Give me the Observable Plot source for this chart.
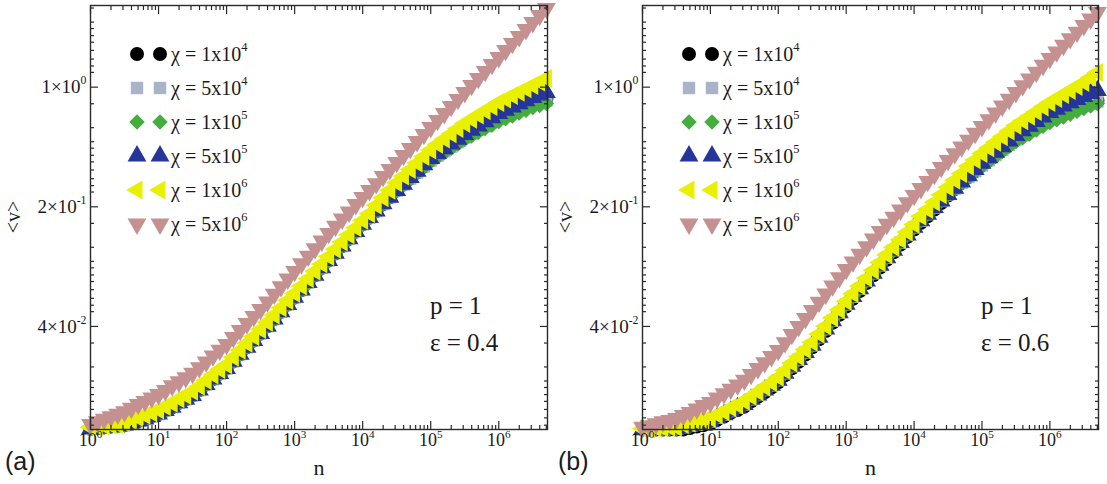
<!DOCTYPE html>
<html>
<head>
<meta charset="utf-8">
<script src="https://cdn.jsdelivr.net/npm/d3@7"></script>
<script src="https://cdn.jsdelivr.net/npm/@observablehq/plot@0.6"></script>
<style>
  body { margin: 0; background: #fff; }
  #fig { position: relative; width: 1107px; height: 484px; overflow: hidden; background: #fff; color: #111; }
  .lbl { position: absolute; white-space: nowrap; line-height: 1; color: #1a1a1a; }
  .serif { font-family: "Liberation Serif", "DejaVu Serif", serif; }
  .sans { font-family: "Liberation Sans", "DejaVu Sans", sans-serif; }
</style>
</head>
<body>
<div id="fig"></div>
<script>
// Sampled walk lengths n (ten per decade)
const n = [1, 1.259, 1.585, 1.995, 2.512, 3.162, 3.981, 5.012, 6.310, 7.943,
  10, 12.59, 15.85, 19.95, 25.12, 31.62, 39.81, 50.12, 63.10, 79.43,
  100, 125.9, 158.5, 199.5, 251.2, 316.2, 398.1, 501.2, 631.0, 794.3,
  1000, 1259, 1585, 1995, 2512, 3162, 3981, 5012, 6310, 7943,
  1e4, 12589, 15849, 19953, 25119, 31623, 39811, 50119, 63096, 79433,
  1e5, 125893, 158489, 199526, 251189, 316228, 398107, 501187, 630957, 794328,
  1e6, 1258925, 1584893, 1995262, 2511886, 3162278, 3981072, 5011872];

// Panel (a): p = 1, eps = 0.4
const blackA = [0.0101,0.0102,0.0103,0.0104,0.0105,0.0106,0.0109,0.0112,0.0115,0.0119,
  0.0123,0.0129,0.0135,0.0143,0.0150,0.0158,0.0170,0.0183,0.0197,0.0212,
  0.0227,0.0250,0.0275,0.0302,0.0331,0.0364,0.0401,0.0442,0.0487,0.0537,
  0.0591,0.0653,0.0721,0.0796,0.0880,0.0972,0.1071,0.1179,0.1300,0.1432,
  0.1578,0.1728,0.1890,0.2079,0.2274,0.249,0.2696,0.2928,0.3173,0.3443,
  0.373,0.3968,0.4224,0.4487,0.4776,0.5081,0.5348,0.5635,0.5922,0.6237,
  0.6564,0.683,0.7115,0.7409,0.7715,0.8033,0.8304,0.8588];
const grayA = [0.0101,0.0102,0.0103,0.0104,0.0105,0.0106,0.0109,0.0112,0.0115,0.0119,
  0.0123,0.0129,0.0135,0.0143,0.0150,0.0158,0.0170,0.0183,0.0197,0.0212,
  0.0227,0.0250,0.0275,0.0302,0.0331,0.0364,0.0401,0.0442,0.0487,0.0537,
  0.0591,0.0653,0.0721,0.0796,0.0880,0.0972,0.1071,0.1179,0.1300,0.1432,
  0.1578,0.1728,0.1890,0.2079,0.2274,0.249,0.2696,0.2928,0.3173,0.3443,
  0.373,0.3968,0.4224,0.4487,0.4776,0.5081,0.5348,0.5635,0.5922,0.6237,
  0.6564,0.683,0.7115,0.7409,0.7715,0.7929,0.8137,0.836];
const greenA = [0.0101,0.0102,0.0103,0.0104,0.0105,0.0106,0.0109,0.0112,0.0115,0.0119,
  0.0123,0.0129,0.0135,0.0143,0.0150,0.0158,0.0170,0.0183,0.0197,0.0212,
  0.0227,0.0250,0.0275,0.0302,0.0331,0.0364,0.0401,0.0442,0.0487,0.0537,
  0.0591,0.0653,0.0721,0.0796,0.0880,0.0972,0.1071,0.1179,0.1300,0.1432,
  0.1578,0.1728,0.1890,0.2079,0.2274,0.249,0.2689,0.2912,0.3148,0.3406,
  0.368,0.3905,0.4145,0.4398,0.4659,0.4946,0.5192,0.5456,0.5727,0.6002,
  0.6304,0.6547,0.6793,0.7056,0.7330,0.7612,0.782,0.8033];
const blueA = [0.0101,0.0102,0.0103,0.0104,0.0105,0.0106,0.0109,0.0112,0.0115,0.0119,
  0.0123,0.0129,0.0135,0.0143,0.0150,0.0158,0.0170,0.0183,0.0197,0.0212,
  0.0227,0.0250,0.0275,0.0302,0.0331,0.0364,0.0401,0.0442,0.0487,0.0537,
  0.0591,0.0653,0.0721,0.0796,0.0880,0.0972,0.1071,0.1179,0.1300,0.1432,
  0.1578,0.1728,0.1890,0.2079,0.2274,0.249,0.2711,0.2961,0.3225,0.3518,
  0.3832,0.4088,0.4363,0.4647,0.496,0.5291,0.5605,0.5922,0.6271,0.663,
  0.7016,0.733,0.7653,0.799,0.8337,0.8702,0.9001,0.9306];
const yellowA = [0.0103,0.0104,0.0105,0.0106,0.0107,0.0109,0.0113,0.0117,0.0121,0.0125,
  0.0130,0.0136,0.0142,0.0151,0.0158,0.0167,0.0179,0.0193,0.0208,0.0224,
  0.0239,0.0264,0.0290,0.0319,0.0349,0.0384,0.0423,0.0466,0.0514,0.0567,
  0.0624,0.0689,0.0761,0.0840,0.0928,0.1025,0.1130,0.1244,0.1372,0.1511,
  0.1665,0.1823,0.2040,0.2260,0.2500,0.2760,0.3020,0.3300,0.3600,0.3930,
  0.4290,0.4635,0.4973,0.5334,0.5727,0.6133,0.6495,0.6867,0.7271,0.7694,
  0.8138,0.8519,0.8916,0.9331,0.9768,1.023,1.072,1.124];
const pinkA = [0.0107,0.0111,0.0115,0.0119,0.0123,0.0127,0.0133,0.0140,0.0146,0.0153,
  0.0160,0.0169,0.0180,0.0190,0.0201,0.0213,0.0230,0.0248,0.0269,0.0291,
  0.0314,0.0345,0.0379,0.0416,0.0458,0.0503,0.0557,0.0617,0.0683,0.0757,
  0.0839,0.0929,0.1029,0.1139,0.1262,0.1398,0.1540,0.1697,0.1864,0.2062,
  0.2268,0.249,0.2733,0.3009,0.3304,0.3631,0.399,0.4387,0.4815,0.5291,
  0.5811,0.639,0.7017,0.7715,0.8474,0.9306,1.023,1.124,1.235,1.357,
  1.490,1.638,1.800,1.976,2.172,2.387,2.623,2.883];

// Panel (b): p = 1, eps = 0.6
const blackB = [0.0100,0.0100,0.0100,0.0100,0.0100,0.0100,0.0100,0.0102,0.0104,0.0106,
  0.0108,0.0114,0.0119,0.0125,0.0130,0.0136,0.0146,0.0155,0.0165,0.0176,
  0.0189,0.0207,0.0228,0.0249,0.0274,0.0302,0.0337,0.0376,0.0420,0.0468,
  0.0523,0.0581,0.0645,0.0717,0.0796,0.0884,0.0980,0.1085,0.1202,0.1331,
  0.1475,0.1611,0.1760,0.1927,0.2104,0.2330,0.2540,0.2759,0.2985,0.3225,
  0.349,0.3740,0.4012,0.4305,0.4610,0.4946,0.5234,0.5545,0.5858,0.6203,
  0.6564,0.6812,0.7077,0.7349,0.7632,0.7926,0.8138,0.836];
const grayB = [0.0100,0.0100,0.0101,0.0101,0.0101,0.0101,0.0103,0.0105,0.0107,0.0109,
  0.0111,0.0117,0.0122,0.0128,0.0134,0.0140,0.0150,0.0159,0.0170,0.0181,
  0.0194,0.0213,0.0234,0.0256,0.0282,0.0310,0.0346,0.0386,0.0432,0.0481,
  0.0538,0.0597,0.0663,0.0737,0.0818,0.0909,0.1007,0.1115,0.1235,0.1368,
  0.1516,0.1656,0.1809,0.1980,0.2162,0.2362,0.2551,0.2759,0.2985,0.3225,
  0.349,0.3740,0.4012,0.4305,0.4610,0.4946,0.5234,0.5545,0.5858,0.6203,
  0.6564,0.6812,0.7077,0.7349,0.7632,0.782,0.803,0.825];
const greenB = [0.0100,0.0100,0.0101,0.0101,0.0101,0.0101,0.0103,0.0105,0.0107,0.0109,
  0.0111,0.0117,0.0122,0.0128,0.0134,0.0140,0.0150,0.0159,0.0170,0.0181,
  0.0194,0.0213,0.0234,0.0256,0.0282,0.0310,0.0346,0.0386,0.0432,0.0481,
  0.0538,0.0597,0.0663,0.0737,0.0818,0.0909,0.1007,0.1115,0.1235,0.1368,
  0.1516,0.1656,0.1809,0.1980,0.2162,0.2362,0.2544,0.274,0.2961,0.319,
  0.3443,0.368,0.3937,0.4213,0.4499,0.4815,0.5067,0.5334,0.562,0.5906,
  0.622,0.646,0.6702,0.696,0.7232,0.751,0.7768,0.8033];
const blueB = [0.0100,0.0100,0.0101,0.0101,0.0101,0.0101,0.0103,0.0105,0.0107,0.0109,
  0.0111,0.0117,0.0122,0.0128,0.0134,0.0140,0.0150,0.0159,0.0170,0.0181,
  0.0194,0.0213,0.0234,0.0256,0.0282,0.0310,0.0346,0.0386,0.0432,0.0481,
  0.0538,0.0597,0.0663,0.0737,0.0818,0.0909,0.1007,0.1115,0.1235,0.1368,
  0.1516,0.1656,0.1809,0.1980,0.2162,0.2362,0.2565,0.2789,0.3034,0.3296,
  0.3585,0.3863,0.4168,0.4487,0.484,0.522,0.556,0.5906,0.6287,0.6684,
  0.7115,0.743,0.7757,0.8093,0.8451,0.882,0.9184,0.956];
const yellowB = [0.0101,0.0101,0.0102,0.0102,0.0103,0.0103,0.0107,0.0109,0.0111,0.0113,
  0.0116,0.0122,0.0127,0.0134,0.0139,0.0146,0.0156,0.0166,0.0177,0.0188,
  0.0202,0.0221,0.0244,0.0266,0.0293,0.0323,0.0361,0.0402,0.0449,0.0501,
  0.0560,0.0622,0.0690,0.0767,0.0852,0.0946,0.1049,0.1161,0.1286,0.1424,
  0.1578,0.1760,0.1930,0.2130,0.2350,0.2600,0.2860,0.3130,0.3453,0.376,
  0.4099,0.4415,0.4763,0.5136,0.5545,0.597,0.6356,0.6757,0.7192,0.7653,
  0.8138,0.8588,0.9062,0.956,1.009,1.065,1.139,1.219];
const pinkB = [0.0103,0.0105,0.0108,0.0111,0.0113,0.0116,0.0121,0.0126,0.0132,0.0138,
  0.0144,0.0153,0.0162,0.0172,0.0182,0.0194,0.0210,0.0227,0.0246,0.0267,
  0.0290,0.0322,0.0359,0.0400,0.0446,0.0496,0.0554,0.0619,0.0690,0.0771,
  0.0862,0.0954,0.1057,0.1170,0.1296,0.1436,0.1583,0.1742,0.1915,0.2116,
  0.233,0.2558,0.2812,0.3091,0.3397,0.373,0.4088,0.4475,0.4906,0.5376,
  0.589,0.646,0.7077,0.7757,0.8497,0.9306,1.020,1.118,1.225,1.343,
  1.471,1.607,1.757,1.919,2.097,2.292,2.502,2.731];

// Series labels (chi values) and colours
const chiLabels = ["χ = 1x10^4", "χ = 5x10^4", "χ = 1x10^5", "χ = 5x10^5", "χ = 1x10^6", "χ = 5x10^6"];
const colors = ["#000000", "#a9b4c8", "#45ad3e", "#26359a", "#e9f000", "#c49090"];

// Axis ticks and labels
const xTicks = [1, 10, 100, 1e3, 1e4, 1e5, 1e6];
const xTickLabels = ["10^0", "10^1", "10^2", "10^3", "10^4", "10^5", "10^6"];
const yTicks = [0.04, 0.2, 1];
const yTickLabels = ["4×10^-2", "2×10^-1", "1×10^0"];
const yMinorTicks = [0.0106, 0.0117, 0.0131, 0.0146, 0.016, 0.0176, 0.0192, 0.0232, 0.032,
  0.0488, 0.0532, 0.0584, 0.0656, 0.0732, 0.08, 0.088, 0.096, 0.116, 0.16,
  0.244, 0.266, 0.292, 0.328, 0.366, 0.4, 0.44, 0.48, 0.58, 0.8,
  1.22, 1.33, 1.46, 1.64, 1.83, 2.0, 2.2, 2.4, 2.9];
const xDomain = [1, 5.2e6];
const yDomain = [0.01, 3];

const xMinorTicks = [];
for (const d of xTicks) for (const m of [2, 3, 4, 5, 6, 7, 8, 9]) if (d * m < xDomain[1]) xMinorTicks.push(d * m);

// Marker shapes: circle, square, diamond, up/left/down triangles
const sqrt3 = Math.sqrt(3);
const triangleLeft = {draw(ctx, size) {
  const y = -Math.sqrt(size / (sqrt3 * 3));
  ctx.moveTo(y * 2, 0); ctx.lineTo(-y, sqrt3 * y); ctx.lineTo(-y, -sqrt3 * y); ctx.closePath();
}};
const triangleDown = {draw(ctx, size) {
  const y = -Math.sqrt(size / (sqrt3 * 3));
  ctx.moveTo(0, -y * 2); ctx.lineTo(-sqrt3 * y, y); ctx.lineTo(sqrt3 * y, y); ctx.closePath();
}};
const symbols = [d3.symbolCircle, d3.symbolSquare, d3.symbolDiamond2, d3.symbolTriangle, triangleLeft, triangleDown];

const panels = [
  {left: 0, width: 553, marginLeft: 90, marginRight: 6, tag: "(a)", eps: "0.4",
   series: [blackA, grayA, greenA, blueA, yellowA, pinkA]},
  {left: 553, width: 554, marginLeft: 89, marginRight: 9, tag: "(b)", eps: "0.6",
   series: [blackB, grayB, greenB, blueB, yellowB, pinkB]}
];
const H = 484, marginTop = 5, marginBottom = 55;
const fig = document.getElementById("fig");
const svgNS = "http://www.w3.org/2000/svg";

// Turn "a^b" label strings into text with a raised exponent
function setSup(textEl, str, dy = "-0.75em") {
  const [base, exp] = str.split("^");
  textEl.textContent = "";
  const a = document.createElementNS(svgNS, "tspan");
  a.textContent = base;
  textEl.appendChild(a);
  if (exp !== undefined) {
    const b = document.createElementNS(svgNS, "tspan");
    b.textContent = exp;
    b.setAttribute("dy", dy);
    b.style.fontSize = "0.62em";
    textEl.appendChild(b);
  }
}

const xLabelOf = new Map(xTicks.map((v, i) => [v, xTickLabels[i]]));
const yLabelOf = new Map(yTicks.map((v, i) => [v, yTickLabels[i]]));

for (const p of panels) {
  const frameColor = "#2a2a2a";
  const tickOpts = {stroke: frameColor, strokeWidth: 1.2, tickFormat: () => "", label: null};
  const dots = p.series.map((values, i) => Plot.dot(
    values.map((v, j) => ({n: n[j], v})),
    {x: "n", y: "v", r: 7, fill: colors[i], symbol: symbols[i]}
  ));
  const chart = Plot.plot({
    width: p.width, height: H,
    marginLeft: p.marginLeft, marginRight: p.marginRight, marginTop, marginBottom,
    x: {type: "log", domain: xDomain},
    y: {type: "log", domain: yDomain},
    style: {fontFamily: "Liberation Serif, DejaVu Serif, serif", fontSize: "18px", color: "#1a1a1a", background: "transparent", overflow: "visible"},
    marks: [
      ...dots,
      // inward ticks on all four sides
      Plot.axisX({anchor: "bottom", ticks: xTicks, tickSize: -8, ...tickOpts}),
      Plot.axisX({anchor: "bottom", ticks: xMinorTicks, tickSize: -4, ...tickOpts}),
      Plot.axisX({anchor: "top", ticks: xTicks, tickSize: -8, ...tickOpts}),
      Plot.axisX({anchor: "top", ticks: xMinorTicks, tickSize: -4, ...tickOpts}),
      Plot.axisY({anchor: "left", ticks: yTicks, tickSize: -8, ...tickOpts}),
      Plot.axisY({anchor: "left", ticks: yMinorTicks, tickSize: -4, ...tickOpts}),
      Plot.axisY({anchor: "right", ticks: yTicks, tickSize: -8, ...tickOpts}),
      Plot.axisY({anchor: "right", ticks: yMinorTicks, tickSize: -4, ...tickOpts}),
      // tick labels
      Plot.axisX({anchor: "bottom", ticks: xTicks, tickSize: 0, tickPadding: 4, label: null,
        tickFormat: (d) => xLabelOf.get(d), fill: "#1a1a1a", fontSize: 18}),
      Plot.axisY({anchor: "left", ticks: yTicks, tickSize: 0, tickPadding: 4, label: null,
        tickFormat: (d) => yLabelOf.get(d), fill: "#1a1a1a", fontSize: 19}),
      Plot.frame({stroke: frameColor, strokeWidth: 1.4})
    ]
  });
  chart.style.position = "absolute";
  chart.style.top = "0px";
  chart.style.left = p.left + "px";
  chart.querySelectorAll("text").forEach((t) => {
    const s = t.textContent;
    if (s.includes("^")) {
      setSup(t, s);
      t.style.fontSize = s.includes("×") ? "19px" : "18px";
    }
  });
  fig.appendChild(chart);

  const x0 = p.left + p.marginLeft;
  const x1 = p.left + p.width - p.marginRight;

  // legend: two markers and a label per series
  const leg = document.createElementNS(svgNS, "svg");
  leg.setAttribute("width", 1107); leg.setAttribute("height", H);
  leg.style.position = "absolute"; leg.style.left = "0"; leg.style.top = "0";
  chiLabels.forEach((lab, i) => {
    const cy = 54 + i * 34;
    for (const dx of [47, 70]) {
      const path = document.createElementNS(svgNS, "path");
      path.setAttribute("d", d3.symbol(symbols[i], Math.PI * 7 * 7)());
      path.setAttribute("transform", `translate(${x0 + dx},${cy})`);
      path.setAttribute("fill", colors[i]);
      leg.appendChild(path);
    }
    const t = document.createElementNS(svgNS, "text");
    t.setAttribute("x", x0 + 81); t.setAttribute("y", cy + 7);
    t.setAttribute("font-family", "Liberation Serif, DejaVu Serif, serif");
    t.setAttribute("font-size", 20); t.setAttribute("fill", "#1a1a1a");
    setSup(t, lab, "-0.8em");
    leg.appendChild(t);
  });
  fig.appendChild(leg);

  const add = (html, cls, css) => {
    const d = document.createElement("div");
    d.className = "lbl " + cls;
    d.innerHTML = html;
    Object.assign(d.style, css);
    fig.appendChild(d);
  };
  add("p = 1", "serif", {left: (x1 - 117) + "px", top: "293px", fontSize: "25px"});
  add("ε = " + p.eps, "serif", {left: (x1 - 117) + "px", top: "330px", fontSize: "25px"});
  add(p.tag, "sans", {left: (p.left + 5) + "px", top: "449px", fontSize: "25px"});
  add("n", "serif", {left: ((x0 + x1) / 2 - 5) + "px", top: "457px", fontSize: "22px"});
  add("&lt;v&gt;", "serif", {left: (x0 - 77) + "px", top: "217px", fontSize: "20px",
    transform: "translate(-50%,-50%) rotate(-90deg)"});
}
</script>
</body>
</html>
